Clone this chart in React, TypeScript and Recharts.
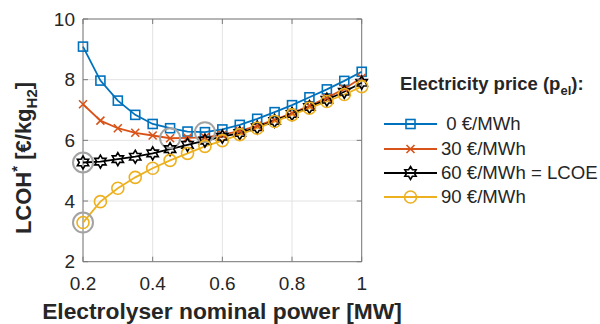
import React from "react";
import {
  LineChart,
  Line,
  XAxis,
  YAxis,
  CartesianGrid,
  ReferenceArea,
  Legend,
  Label,
} from "recharts";

// electrolyser size [MW] and LCOH* [€/kg H2] for each electricity price
const powerMW = [0.2, 0.25, 0.3, 0.35, 0.4, 0.45, 0.5, 0.55, 0.6, 0.65, 0.7, 0.75, 0.8, 0.85, 0.9, 0.95, 1.0];
const lcoh0 = [9.09, 7.97, 7.31, 6.84, 6.54, 6.4, 6.29, 6.27, 6.36, 6.51, 6.71, 6.93, 7.16, 7.42, 7.68, 7.96, 8.26];
const lcoh30 = [7.19, 6.65, 6.4, 6.25, 6.16, 6.07, 6.08, 6.1, 6.18, 6.31, 6.48, 6.68, 6.9, 7.14, 7.4, 7.7, 8.06];
const lcoh60 = [5.27, 5.3, 5.38, 5.46, 5.57, 5.71, 5.85, 5.99, 6.12, 6.24, 6.43, 6.64, 6.87, 7.1, 7.34, 7.6, 7.9];
const lcoh90 = [3.29, 3.98, 4.42, 4.78, 5.08, 5.34, 5.57, 5.8, 5.99, 6.19, 6.4, 6.62, 6.84, 7.06, 7.28, 7.51, 7.77];

const xTicks = [0.2, 0.4, 0.6, 0.8, 1];
const yTicks = [2, 4, 6, 8, 10];

const FONT = "'Liberation Sans', Arial, sans-serif";
const TEXT = "#262626";

// plot box in px
const PLOT = { left: 83, right: 361.7, top: 19, bottom: 261.7 };

type MarkerKind = "square" | "cross" | "hexagram" | "circle";

const series: { key: string; label: string; color: string; marker: MarkerKind; values: number[] }[] = [
  { key: "p0", label: "\u00a00 €/MWh", color: "#0072BD", marker: "square", values: lcoh0 },
  { key: "p30", label: "30 €/MWh", color: "#D95319", marker: "cross", values: lcoh30 },
  { key: "p60", label: "60 €/MWh = LCOE", color: "#000000", marker: "hexagram", values: lcoh60 },
  { key: "p90", label: "90 €/MWh", color: "#EDB120", marker: "circle", values: lcoh90 },
];

const rows = powerMW.map((x, i) => {
  const r: Record<string, number> = { x };
  series.forEach((s) => (r[s.key] = s.values[i]));
  return r;
});

// index of the lowest LCOH of a curve, marked with a grey ring
const minIndex = (values: number[]) => {
  let k = 0;
  values.forEach((v, i) => {
    if (v < values[k]) k = i;
  });
  return k;
};

const hexagramPath = (cx: number, cy: number, R: number) => {
  const r = R / Math.sqrt(3);
  const pts: string[] = [];
  for (let i = 0; i < 12; i++) {
    const a = -Math.PI / 2 + (i * Math.PI) / 6;
    const rad = i % 2 === 0 ? R : r;
    pts.push(`${(cx + rad * Math.cos(a)).toFixed(2)},${(cy + rad * Math.sin(a)).toFixed(2)}`);
  }
  return "M" + pts.join("L") + "Z";
};

const Marker = ({ kind, cx, cy, color }: { kind: MarkerKind; cx: number; cy: number; color: string }) => {
  const sw = 1.6;
  if (kind === "square")
    return <rect x={cx - 4.5} y={cy - 4.5} width={9} height={9} fill="none" stroke={color} strokeWidth={sw} />;
  if (kind === "cross")
    return (
      <path
        d={`M${cx - 4},${cy - 4}L${cx + 4},${cy + 4}M${cx - 4},${cy + 4}L${cx + 4},${cy - 4}`}
        stroke={color}
        strokeWidth={sw}
      />
    );
  if (kind === "hexagram")
    return <path d={hexagramPath(cx, cy, 6.5)} fill="none" stroke={color} strokeWidth={sw} />;
  return <circle cx={cx} cy={cy} r={6} fill="none" stroke={color} strokeWidth={sw} />;
};

const makeDot = (kind: MarkerKind, color: string, ringAt: number) => (props: any) => {
  const { cx, cy, index } = props;
  if (cx == null || cy == null) return <g key={index} />;
  return (
    <g key={index}>
      <Marker kind={kind} cx={cx} cy={cy} color={color} />
      {index === ringAt && <circle cx={cx} cy={cy} r={10} fill="none" stroke="#a3a3a3" strokeWidth={2} />}
    </g>
  );
};

const YTick = (props: any) => {
  const { y, payload } = props;
  return (
    <g>
      <line x1={PLOT.left} x2={PLOT.left + 5} y1={y} y2={y} stroke="#7a7a7a" />
      <line x1={PLOT.right} x2={PLOT.right - 5} y1={y} y2={y} stroke="#7a7a7a" />
      <text x={PLOT.left - 8} y={y} dy={6.5} textAnchor="end" fontSize={19} fontFamily={FONT} fill={TEXT}>
        {payload.value}
      </text>
    </g>
  );
};

const XTick = (props: any) => {
  const { x, payload } = props;
  return (
    <g>
      <line x1={x} x2={x} y1={PLOT.bottom} y2={PLOT.bottom - 5} stroke="#7a7a7a" />
      <line x1={x} x2={x} y1={PLOT.top} y2={PLOT.top + 5} stroke="#7a7a7a" />
      <text x={x} y={289.5} textAnchor="middle" fontSize={19} fontFamily={FONT} fill={TEXT}>
        {payload.value}
      </text>
    </g>
  );
};

const YTitle = () => (
  <text
    transform="translate(31,158) rotate(-90)"
    textAnchor="middle"
    fontSize={22}
    fontWeight="bold"
    fontFamily={FONT}
    fill={TEXT}
  >
    LCOH
    <tspan dy={-9} fontSize={15}>*</tspan>
    <tspan dy={9}> [€/kg</tspan>
    <tspan dy={6} fontSize={15}>H2</tspan>
    <tspan dy={-6}>]</tspan>
  </text>
);

const XTitle = () => (
  <text x={222} y={319} textAnchor="middle" fontSize={22.8} fontWeight="bold" fontFamily={FONT} fill={TEXT}>
    Electrolyser nominal power [MW]
  </text>
);

const LegendBox = () => (
  <div style={{ fontFamily: FONT, color: TEXT }}>
    <div style={{ fontWeight: "bold", fontSize: 18.5, marginLeft: 16, marginTop: 3, height: 26, whiteSpace: "nowrap" }}>
      Electricity price (p<sub style={{ fontSize: 13 }}>el</sub>):
    </div>
    <div style={{ marginTop: 13 }}>
      {series.map((s) => (
        <div key={s.key} style={{ display: "flex", alignItems: "center", height: 24.4 }}>
          <svg width={57} height={20} style={{ flex: "none" }}>
            <line x1={0} x2={53} y1={10} y2={10} stroke={s.color} strokeWidth={1.8} />
            <Marker kind={s.marker} cx={26.5} cy={10} color={s.color} />
          </svg>
          <span style={{ fontSize: 18.6, whiteSpace: "nowrap" }}>{s.label}</span>
        </div>
      ))}
    </div>
  </div>
);

export default function App() {
  return (
    <div style={{ position: "absolute", left: 0, top: 0, width: 600, height: 324, background: "#fff" }}>
      <LineChart
        width={600}
        height={324}
        data={rows}
        margin={{ top: PLOT.top, right: 600 - PLOT.right, bottom: 0, left: 0 }}
      >
        <CartesianGrid stroke="#e3e3e3" strokeWidth={1} />
        <XAxis
          dataKey="x"
          type="number"
          domain={[0.2, 1]}
          ticks={xTicks}
          height={324 - PLOT.bottom}
          axisLine={false}
          tickLine={false}
          tickSize={0}
          tick={<XTick />}
          interval={0}
        >
          <Label content={<XTitle />} />
        </XAxis>
        <YAxis
          type="number"
          domain={[2, 10]}
          ticks={yTicks}
          width={PLOT.left}
          axisLine={false}
          tickLine={false}
          tickSize={0}
          tick={<YTick />}
          interval={0}
        >
          <Label content={<YTitle />} />
        </YAxis>
        <ReferenceArea x1={0.2} x2={1} y1={2} y2={10} fill="none" fillOpacity={0} stroke="#7a7a7a" strokeWidth={1} />
        {series.map((s) => (
          <Line
            key={s.key}
            dataKey={s.key}
            type="linear"
            stroke={s.color}
            strokeWidth={1.8}
            dot={makeDot(s.marker, s.color, minIndex(s.values))}
            activeDot={false}
            isAnimationActive={false}
          />
        ))}
        <Legend
          layout="horizontal"
          align="center"
          verticalAlign="middle"
          content={<LegendBox />}
          wrapperStyle={{ position: "absolute", left: 384, top: 70, width: 216 }}
        />
      </LineChart>
    </div>
  );
}
